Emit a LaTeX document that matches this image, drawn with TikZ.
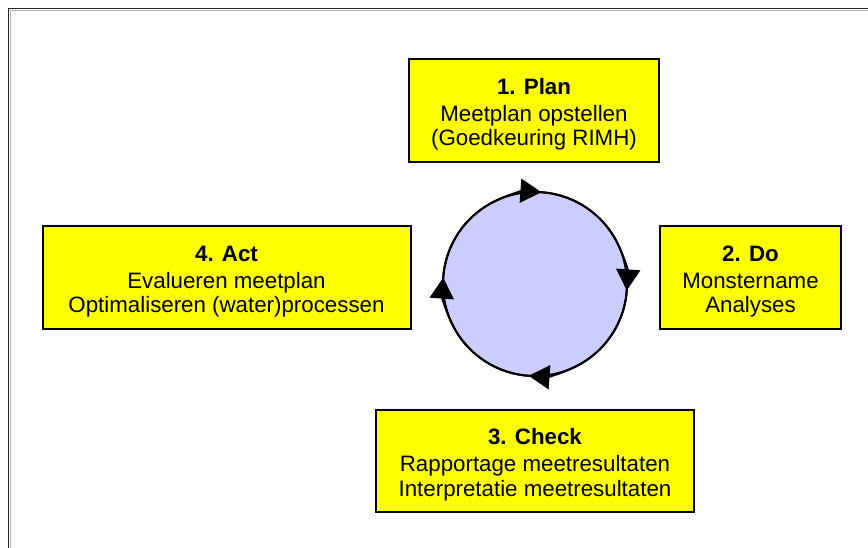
\documentclass[tikz,border=0pt]{standalone}
\usepackage{fontspec}
\setmainfont{Liberation Sans}
\usetikzlibrary{arrows.meta}
\definecolor{stageyellow}{RGB}{255,255,0}
\definecolor{cyclefill}{RGB}{204,204,255}
\newcommand\StageTitle[1]{\rule{0pt}{24pt}\textbf{#1}\\[2.5pt]}
\tikzset{%
    >=latex, % option for nice arrows
    stage/.style={draw=black,line width=2pt,fill=stageyellow,inner sep=0pt,
        align=center,font=\fontsize{22.3}{24.5}\selectfont},%
    cycle arrow/.style={line width=2pt,
        -{Triangle[length=21pt,width=24pt]}},%
    frame line/.style={line width=1.3pt,black!85}%
}

\begin{document}
\begin{tikzpicture}[x=1pt,y=-1pt] % PDCA cycle

    \def\RadiusCycle{92} % radius of the cycle
    \def\angShift{4} % tips a bit past the four quarters

    \useasboundingbox (0,0) rectangle (868,548);

    % outer frame, open at the right and bottom
    \draw[frame line] (8.5,548) |- (868,8.5);
    \draw[black!30,line width=0.8pt] (10,548) |- (868,10);

    \node[stage,minimum width=250pt,minimum height=103pt] (plan) at (534,110.5)
        {\StageTitle{1. Plan} Meetplan opstellen\\ (Goedkeuring RIMH)};
    \node[stage,minimum width=181pt,minimum height=103pt] (do) at (750.5,277.5)
        {\StageTitle{2. Do} Monstername\\ Analyses};
    \node[stage,minimum width=318pt,minimum height=102pt] (check) at (535,461)
        {\StageTitle{3. Check} Rapportage meetresultaten\\ Interpretatie meetresultaten};
    \node[stage,minimum width=368pt,minimum height=103pt] (act) at (226.5,277.5)
        {\StageTitle{4. Act} Evalueren meetplan\\ Optimaliseren (water)processen};

    \node[circle,draw,line width=2pt,fill=cyclefill,inner sep=0pt,
        minimum size={2*\RadiusCycle}] (cycle) at (535,284) {};

    % the four arrows, clockwise (y axis points down)
    \foreach \a in {90,0,-90,-180}{
        \pgfmathsetmacro\aStart{-(\a+90)}
        \pgfmathsetmacro\aEnd{-(\a-\angShift)}
        \draw[cycle arrow] ([shift={(\aStart:\RadiusCycle)}]cycle.center)
            arc[start angle=\aStart,end angle=\aEnd,radius=\RadiusCycle];
    }

\end{tikzpicture}
\end{document}
